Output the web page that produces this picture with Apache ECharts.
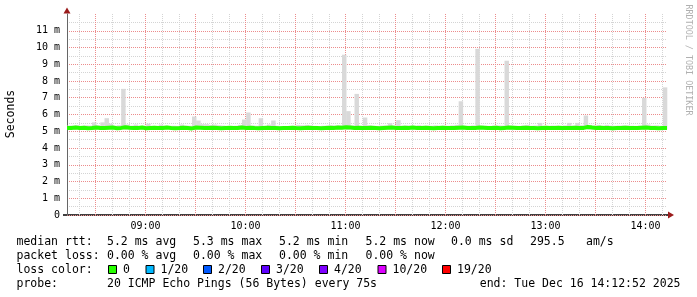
<!DOCTYPE html>
<html><head><meta charset="utf-8">
<script src="https://cdn.jsdelivr.net/npm/echarts@6/dist/echarts.min.js"></script>
<style>html,body{margin:0;padding:0;background:#fff}#c{width:697px;height:297px}</style>
</head><body><div id="c"></div>
<script>
// ---- time base (minutes since midnight) ----
const startMin = 8 * 60 + 12 + 52 / 60;   // 08:12:52
const stepMin = 2.5;                      // 150 s per sample

// ---- axis ticks ----
const hourTicks = [540, 600, 660, 720, 780, 840];
const majorXTicks = [510, 540, 570, 600, 630, 660, 690, 720, 750, 780, 810, 840];
const minorXTicks = [500, 520, 530, 550, 560, 580, 590, 610, 620, 640, 650, 670, 680, 700, 710, 730, 740, 760, 770, 790, 800, 820, 830, 850];
const yMajorTicks = [0, 1, 2, 3, 4, 5, 6, 7, 8, 9, 10, 11];
const yMinorTicks = [0.5, 1.5, 2.5, 3.5, 4.5, 5.5, 6.5, 7.5, 8.5, 9.5, 10.5, 11.5];

// ---- series (ms) ----
const smokeHigh = [
  5.34,5.33,5.36,5.30,5.35,5.34,5.53,5.36,5.53,5.78,5.45,5.33,
  5.36,7.53,5.40,5.34,5.40,5.30,5.33,5.45,5.32,5.31,5.40,5.33,
  5.30,5.33,5.32,5.40,5.34,5.33,5.88,5.64,5.42,5.42,5.38,5.40,
  5.36,5.34,5.31,5.32,5.33,5.38,5.70,6.12,5.34,5.33,5.78,5.32,
  5.40,5.64,5.33,5.30,5.31,5.30,5.33,5.38,5.36,5.38,5.35,5.32,
  5.31,5.33,5.34,5.36,5.34,5.35,9.57,6.20,5.35,7.23,5.33,5.82,
  5.36,5.33,5.32,5.34,5.35,5.48,5.34,5.66,5.33,5.35,5.34,5.33,
  5.36,5.32,5.34,5.33,5.35,5.32,5.34,5.33,5.35,5.38,6.79,5.34,
  5.33,5.35,9.92,5.34,5.33,5.32,5.34,5.35,5.34,9.21,5.34,5.33,
  5.32,5.35,5.38,5.33,5.34,5.50,5.33,5.32,5.34,5.33,5.32,5.35,
  5.50,5.34,5.50,5.36,5.94,5.38,5.34,5.38,5.33,5.38,5.34,5.33,
  5.34,5.35,5.35,5.33,5.32,5.34,6.99,5.40,5.34,5.35,5.33,7.62
];
const smokeLow = [
  5.10,5.08,5.12,5.09,5.11,5.10,5.08,5.11,5.10,5.09,5.12,5.10,
  5.09,5.11,5.10,5.08,5.12,5.10,5.09,5.11,5.10,5.08,5.11,5.10,
  5.12,5.09,5.10,5.11,5.08,5.10,5.09,5.12,5.10,5.11,5.09,5.10,
  5.08,5.11,5.10,5.12,5.09,5.10,5.11,5.08,5.10,5.09,5.12,5.10,
  5.11,5.09,5.10,5.08,5.12,5.10,5.09,5.11,5.10,5.08,5.11,5.10,
  5.09,5.12,5.10,5.11,5.08,5.10,5.12,5.09,5.10,5.11,5.09,5.10,
  5.08,5.11,5.10,5.12,5.09,5.10,5.11,5.08,5.10,5.09,5.12,5.10,
  5.11,5.09,5.10,5.08,5.12,5.10,5.09,5.11,5.10,5.08,5.11,5.10,
  5.09,5.12,5.10,5.11,5.08,5.10,5.09,5.12,5.10,5.11,5.09,5.10,
  5.08,5.11,5.10,5.12,5.09,5.10,5.11,5.08,5.10,5.09,5.12,5.10,
  5.11,5.09,5.10,5.08,5.12,5.10,5.09,5.11,5.10,5.08,5.11,5.10,
  5.09,5.12,5.10,5.11,5.08,5.10,5.09,5.12,5.10,5.11,5.09,5.10
];
const medianRtt = [
  5.20,5.22,5.19,5.21,5.18,5.20,5.23,5.20,5.19,5.21,5.22,5.18,
  5.20,5.24,5.21,5.19,5.20,5.22,5.18,5.20,5.21,5.19,5.20,5.23,
  5.20,5.18,5.19,5.21,5.20,5.17,5.22,5.21,5.20,5.19,5.21,5.20,
  5.18,5.20,5.21,5.19,5.20,5.22,5.20,5.21,5.19,5.18,5.20,5.21,
  5.19,5.20,5.18,5.19,5.20,5.21,5.19,5.18,5.20,5.21,5.20,5.19,
  5.18,5.20,5.21,5.20,5.22,5.21,5.24,5.22,5.20,5.21,5.19,5.20,
  5.21,5.20,5.18,5.20,5.21,5.22,5.20,5.19,5.21,5.20,5.22,5.20,
  5.19,5.21,5.20,5.18,5.20,5.21,5.20,5.19,5.20,5.21,5.22,5.20,
  5.19,5.20,5.22,5.21,5.19,5.20,5.21,5.18,5.20,5.22,5.21,5.19,
  5.20,5.21,5.19,5.20,5.18,5.20,5.21,5.20,5.19,5.21,5.20,5.19,
  5.20,5.21,5.19,5.20,5.25,5.22,5.20,5.21,5.19,5.20,5.18,5.20,
  5.19,5.21,5.20,5.19,5.20,5.21,5.22,5.20,5.19,5.18,5.20,5.20
];

// ---- legend texts ----
const rttRow = ['median rtt:', '5.2 ms avg', '5.3 ms max', '5.2 ms min', '5.2 ms now', '0.0 ms sd', '295.5', 'am/s'];
const lossRow = ['packet loss:', '0.00 % avg', '0.00 % max', '0.00 % min', '0.00 % now'];
const lossLabels = ['0', '1/20', '2/20', '3/20', '4/20', '10/20', '19/20'];
const lossColors = ['#26ff00', '#00b8ff', '#0059ff', '#5e00ff', '#7e00ff', '#dd00ff', '#ff0000'];
const probeText = ['probe:', '20 ICMP Echo Pings (56 Bytes) every 75s'];
const endText = 'end: Tue Dec 16 14:12:52 2025';
const yTitle = 'Seconds';
const sideText = 'RRDTOOL / TOBI OETIKER';

// ---- build ----
const endMin = startMin + medianRtt.length * stepMin;
const smokeData = smokeHigh.map((h, i) => [startMin + i * stepMin, smokeLow[i], h]);
const medianData = medianRtt.map((v, i) => [startMin + i * stepMin, v]);
medianData.push([endMin, medianRtt[medianRtt.length - 1]]);

const MONO = '"DejaVu Sans Mono", monospace';
const RED = '#ec8c8c', GRAY = '#d4d4d4';
const DASH = [1, 1];
const pad = n => (n < 10 ? '0' : '') + n;

const legendFont = '11.5px ' + MONO;
const rowX = [16.5, 107, 193, 279, 365.5, 451, 530, 586];
const rowY = [242.3, 256.3, 270.3, 284.3];
const graphic = [];
function txt(x, y, s, extra) {
  graphic.push(Object.assign({ type: 'text', x: x, y: y, silent: true,
    style: Object.assign({ text: s, font: legendFont, fill: '#000', align: 'left', verticalAlign: 'middle' }, extra || {}) }));
}
rttRow.forEach((s, i) => txt(rowX[i], rowY[0], s));
lossRow.forEach((s, i) => txt(rowX[i], rowY[1], s));
txt(rowX[0], rowY[2], 'loss color:');
const sqX = [108, 145.5, 203, 261, 319, 377.5, 442];
lossLabels.forEach((s, i) => {
  graphic.push({ type: 'rect', silent: true, shape: { x: sqX[i] + 0.5, y: 265.5, width: 8, height: 8 },
    style: { fill: lossColors[i], stroke: '#000', lineWidth: 1 } });
  txt(sqX[i] + 15, rowY[2], s);
});
txt(rowX[0], rowY[3], probeText[0]);
txt(rowX[1], rowY[3], probeText[1]);
txt(680.5, rowY[3], endText, { align: 'right' });
// axis titles
graphic.push({ type: 'text', x: 11, y: 114, rotation: Math.PI / 2, silent: true,
  style: { text: yTitle, font: '11.5px ' + MONO, fill: '#000', align: 'center', verticalAlign: 'middle' } });
graphic.push({ type: 'text', x: 688.5, y: 60, rotation: -Math.PI / 2, silent: true,
  style: { text: sideText, font: '8.4px ' + MONO, fill: '#b0b0b0', align: 'center', verticalAlign: 'middle' } });
// arrows
graphic.push({ type: 'polygon', silent: true, shape: { points: [[67, 7.5], [63.5, 13.5], [70.5, 13.5]] }, style: { fill: '#9b1c1c' } });
graphic.push({ type: 'polygon', silent: true, shape: { points: [[674, 215], [668, 211.5], [668, 218.5]] }, style: { fill: '#9b1c1c' } });
graphic.push({ type: 'line', silent: true, shape: { x1: 63, y1: 215, x2: 668, y2: 215 }, style: { stroke: '#000', lineWidth: 1.5 } });

const chart = echarts.init(document.getElementById('c'), null, { renderer: 'canvas' });
chart.setOption({
  animation: false,
  backgroundColor: '#fff',
  grid: { left: 67, top: 14, width: 600, height: 201 },
  xAxis: [
    { type: 'value', min: startMin, max: endMin,
      axisLine: { show: false },
      axisTick: { show: false, customValues: majorXTicks },
      axisLabel: { customValues: hourTicks, fontFamily: MONO, fontSize: 10, color: '#000', margin: 6,
        formatter: v => pad(Math.floor(Math.round(v) / 60)) + ':' + pad(Math.round(v) % 60) },
      splitLine: { show: true, lineStyle: { color: RED, type: DASH, width: 1 } } },
    { type: 'value', min: startMin, max: endMin,
      axisLine: { show: false }, axisLabel: { show: false },
      axisTick: { show: false, customValues: minorXTicks },
      splitLine: { show: true, lineStyle: { color: GRAY, type: DASH, width: 1 } } }
  ],
  yAxis: [
    { type: 'value', min: 0, max: 12,
      axisLine: { show: true, lineStyle: { color: '#666', width: 1 } },
      axisTick: { show: false, customValues: yMajorTicks },
      axisLabel: { customValues: yMajorTicks, fontFamily: MONO, fontSize: 10, color: '#000', margin: 7,
        padding: [3, 0, 0, 0],
        formatter: v => (v === 0 ? '0' : v + ' m') },
      splitLine: { show: true, lineStyle: { color: RED, type: DASH, width: 1 } } },
    { type: 'value', min: 0, max: 12,
      axisLine: { show: false }, axisLabel: { show: false },
      axisTick: { show: false, customValues: yMinorTicks },
      splitLine: { show: true, lineStyle: { color: GRAY, type: DASH, width: 1 } } }
  ],
  series: [
    { type: 'custom', xAxisIndex: 0, yAxisIndex: 0, data: smokeData, z: 3,
      encode: { x: 0, y: [1, 2] },
      renderItem: function (params, api) {
        const x0 = api.value(0), lo = api.value(1), hi = api.value(2);
        const p1 = api.coord([x0, hi]);
        const p2 = api.coord([x0 + stepMin, lo]);
        return { type: 'rect', shape: { x: p1[0], y: p1[1], width: p2[0] - p1[0] + 0.3, height: p2[1] - p1[1] },
          style: { fill: '#d9d9d9' } };
      } },
    { type: 'line', xAxisIndex: 0, yAxisIndex: 0, data: medianData, step: 'end', z: 4,
      showSymbol: false, symbol: 'none', lineStyle: { color: '#26ff00', width: 4 } }
  ],
  graphic: graphic
});
</script></body></html>
